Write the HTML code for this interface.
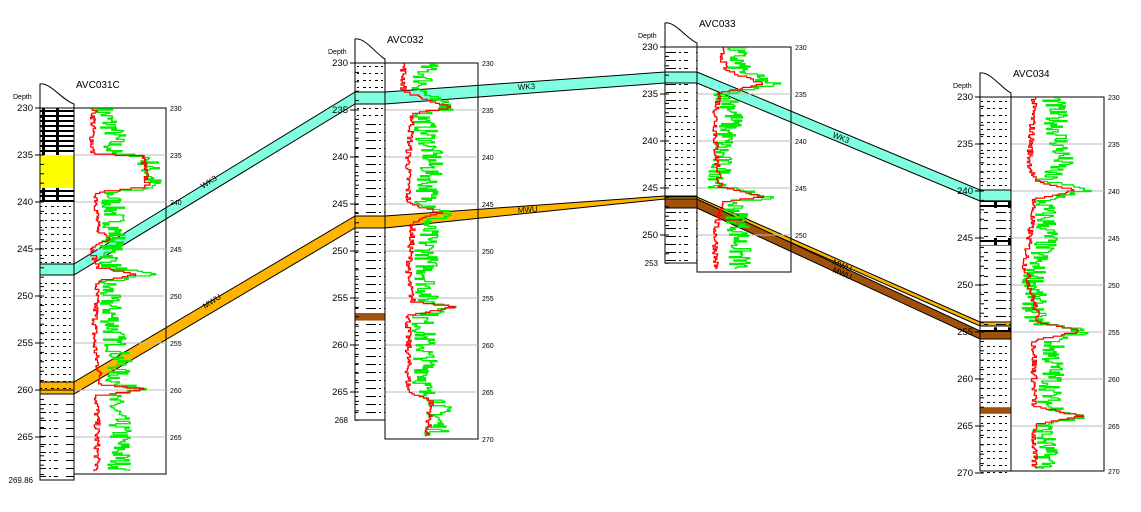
<!DOCTYPE html>
<html><head><meta charset="utf-8"><style>
html,body{margin:0;padding:0;background:#fff;width:1141px;height:512px;overflow:hidden}
svg{display:block}
text{font-family:"Liberation Sans",sans-serif;fill:#000}
</style></head><body>
<svg id="s" width="1141" height="512" viewBox="0 0 1141 512" xmlns="http://www.w3.org/2000/svg">
<defs>
<pattern id="sd" width="12" height="7" patternUnits="userSpaceOnUse"><rect x="3" y="3" width="3" height="1" fill="#000"/><rect x="9" y="3" width="2" height="1" fill="#000"/></pattern>
<pattern id="dd" width="30" height="8" patternUnits="userSpaceOnUse"><rect x="6" y="4" width="10" height="1" fill="#000"/><rect x="19" y="4" width="2" height="1" fill="#000"/><rect x="24" y="4" width="4" height="1" fill="#000"/></pattern>
<pattern id="bk" width="34" height="5" patternUnits="userSpaceOnUse"><rect x="0" y="0" width="34" height="2" fill="#000"/><rect x="8" y="2" width="3" height="3" fill="#000"/><rect x="22" y="2" width="3" height="3" fill="#000"/></pattern>
</defs>
<g id="bands"></g>
<g id="wells"></g>
<g font-size="8">
<text x="203" y="189" transform="rotate(-33 203 189)">WK3</text>
<text x="205" y="309" transform="rotate(-33 205 309)">MWU</text>
<text x="518" y="90" transform="rotate(-4 518 90)">WK3</text>
<text x="518" y="213" transform="rotate(-4 518 213)">MWU</text>
<text x="832" y="137" transform="rotate(22 832 137)">WK3</text>
<text x="832" y="264" transform="rotate(22 832 264)">MWU</text>
<text x="832" y="272" transform="rotate(22 832 272)">MWU</text>
</g>
</svg>
<script>
var NS="http://www.w3.org/2000/svg";
function el(p,t,a,txt){var e=document.createElementNS(NS,t);for(var k in a)e.setAttribute(k,a[k]);if(txt!==undefined)e.textContent=txt;p.appendChild(e);return e;}
var B=document.getElementById("bands"),W=document.getElementById("wells");
el(B,"polygon",{points:"40,264 74,264 355,92 385,92 665,72 697,72 980,190 1011,190 1011,201 980,201 697,83 665,83 385,104 355,104 74,275 40,275",fill:"#80ffe0",stroke:"#000","stroke-width":"1"});
el(B,"polygon",{points:"40,382 74,382 355,216 385,216 665,196 697,196 697,199 665,199 385,228 355,228 74,394 40,394",fill:"#ffb400",stroke:"#000","stroke-width":"1"});
el(B,"line",{x1:40,y1:390,x2:74,y2:390,stroke:"#000"});
el(B,"polygon",{points:"665,197 697,197 980,322 1011,322 1011,326 980,326 697,201 665,201",fill:"#ffb400",stroke:"#000","stroke-width":"1"});
el(B,"polygon",{points:"665,199 697,199 980,331 1011,331 1011,339 980,339 697,208 665,208",fill:"#a0520a",stroke:"#000","stroke-width":"1"});
var seed=7;function rnd(){seed=(seed*16807)%2147483647;return seed/2147483647;}
var wells=[
{name:"AVC031C",lx:40,tx:74,rx:166,top:108,dmax:269.86,tb:474,lb:480,bot:"269.86",
lith:[[230,235,"bk"],[235,238.5,"#ffff00"],[238.5,240,"bk"],[240,247,"sd"],[248,255,"sd"],[255,260,"sd"],[261.3,269.86,"dd"]],
k:[[230,22,30],[233,20,45],[234.9,20,40],[235.2,75,80],[238.5,80,85],[239,25,40],[243,25,45],[244,40,45],[245,20,40],[247,25,40],[247.8,70,80],[248.5,25,35],[255,22,45],[257,25,50],[259.5,30,45],[260,80,85],[260.7,25,40],[264,25,50],[269,25,50]]},
{name:"AVC032",lx:355,tx:385,rx:478,top:63,dmax:268,tb:439,lb:420,bot:"268",
lith:[[230,233,"sd"],[234.4,236,"sd"],[236,246.4,"dd"],[247.7,256.6,"dd"],[256.6,257.4,"#a0520a"],[257.4,268,"dd"]],
k:[[230,20,45],[233,20,40],[234,45,50],[234.8,70,75],[235.5,30,40],[240,25,50],[245,25,45],[246,60,70],[247,30,45],[253,25,45],[255.5,30,45],[256,78,80],[257,25,40],[263,25,45],[265,25,40],[266,50,60],[270,45,55]]},
{name:"AVC033",lx:665,tx:697,rx:791,top:47,dmax:253,tb:272,lb:263,bot:"253",
lith:[[230,232.7,"dd"],[233.9,237.5,"dd"],[237.5,245.3,"sd"],[247.3,253,"dd"]],
k:[[230,25,40],[232.5,30,45],[234,70,80],[235,25,30],[237,20,40],[241,20,25],[245,25,25],[246,70,80],[246.5,30,40],[249,20,45],[253,20,45]]},
{name:"AVC034",lx:980,tx:1011,rx:1104,top:97,dmax:270,tb:471,lb:471,bot:"270",
lith:[[230,239.8,"sd"],[241,241.8,"bk"],[241.8,245,"dd"],[245,245.8,"bk"],[245.8,254.5,"dd"],[254.5,255,"bk"],[256,263,"sd"],[263,263.7,"#a0520a"],[263.7,270,"sd"]],
k:[[230,25,45],[237,20,55],[239,25,35],[240,70,85],[241,25,35],[245,20,40],[248,15,25],[254,30,25],[255,75,80],[256,25,45],[260,25,45],[263,25,40],[264,75,80],[265,25,35],[270,25,40]]}
];
var S=9.4;
wells.forEach(function(w){
 var Y=function(d){return w.top+(d-230)*S;};
 var lw=w.tx-w.lx,tw=w.rx-w.tx;
 el(W,"path",{d:"M"+w.lx+","+w.lb+" L"+w.lx+","+(w.top-24)+" C"+(w.lx+10)+","+(w.top-26)+" "+(w.lx+22)+","+(w.top-8)+" "+w.tx+","+(w.top-4)+" L"+w.tx+","+w.top,fill:"none",stroke:"#000"});
 el(W,"text",{x:w.tx+2,y:w.top-20,"font-size":"10"},w.name);
 el(W,"text",{x:w.lx-27,y:w.top-9,"font-size":"7"},"Depth");
 w.lith.forEach(function(L){var f=L[2].charAt(0)=="#"?L[2]:"url(#"+L[2]+")";el(W,"rect",{x:w.lx,y:Y(L[0]),width:lw,height:(L[1]-L[0])*S,fill:f});});
 el(W,"rect",{x:w.tx,y:w.top,width:tw,height:w.tb-w.top,fill:"none",stroke:"#000"});
 for(var d=235;d<270;d+=5){var y=Y(d);if(y<w.tb){el(W,"line",{x1:w.tx,y1:y,x2:w.rx,y2:y,stroke:"#bbb"});}}
 el(W,"rect",{x:w.lx,y:w.top,width:lw,height:w.lb-w.top,fill:"none",stroke:"#000"});
 for(var d=230;d<=w.dmax;d+=1){var y=Y(d);el(W,"line",{x1:w.lx-(d%5==0?5:0),y1:y,x2:w.lx+4,y2:y,stroke:"#000"});}
 for(var d=230;d<=w.dmax;d+=5){var y=Y(d);el(W,"text",{x:w.lx-7,y:y+3,"font-size":"9.5","text-anchor":"end"},""+d);}
 if(w.dmax%5!=0)el(W,"text",{x:w.lx-7,y:w.lb+3,"font-size":"8","text-anchor":"end"},w.bot);
 for(var d=230;d<270;d+=5){var y=Y(d);if(y<=w.tb+1)el(W,"text",{x:w.rx+4,y:y+3,"font-size":"7"},""+d);}
 if(w.name=="AVC032"||w.name=="AVC034")el(W,"text",{x:w.rx+4,y:w.tb+3,"font-size":"7"},"270");
 function val(d,i){var k=w.k;for(var j=0;j<k.length-1;j++){if(d>=k[j][0]&&d<=k[j+1][0]){var t=(d-k[j][0])/(k[j+1][0]-k[j][0]);return k[j][i]+(k[j+1][i]-k[j][i])*t;}}return k[k.length-1][i];}
 var dend=(w.tb-w.top)/S+230-0.2;
 [[2,"#00ee00",12,0.12,"1.3"],[1,"#ff0000",3,0.15,"1.2"]].forEach(function(c){
  var p="",px=null,st=c[3];
  for(var d=230.1;d<=dend;d+=st){var y=Y(d);var x=w.tx+val(d,c[0])*tw/100+(rnd()-0.5)*c[2]*2;x=Math.min(w.rx-1,Math.max(w.tx+1,x));
   if(px===null)p="M"+x.toFixed(1)+","+y.toFixed(1);else p+=" L"+x.toFixed(1)+","+(y-st*S).toFixed(1)+" L"+x.toFixed(1)+","+y.toFixed(1);px=x;}
  el(W,"path",{d:p,fill:"none",stroke:c[1],"stroke-width":c[4]});
 });
});
</script>
</body></html>
